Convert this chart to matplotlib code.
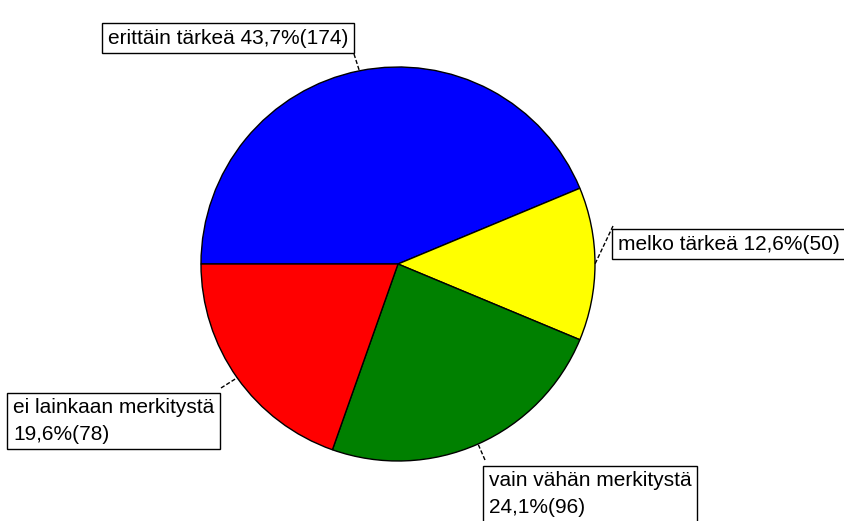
import numpy as np
import matplotlib
matplotlib.use("Agg")
import matplotlib.pyplot as plt

categories = ["erittäin tärkeä", "melko tärkeä", "vain vähän merkitystä", "ei lainkaan merkitystä"]
counts = [174, 50, 96, 78]
percents = ["43,7%", "12,6%", "24,1%", "19,6%"]
colors = ["#0000FF", "#FFFF00", "#008000", "#FF0000"]

W, H = 845, 521
fig = plt.figure(figsize=(W / 100, H / 100), dpi=100)
ax = fig.add_axes([0, 0, 1, 1])
ax.set_xlim(0, W)
ax.set_ylim(0, H)
ax.set_aspect("equal")
ax.axis("off")

cx, cy, R = 398, H - 264, 197
wedges, _ = ax.pie(counts, colors=colors, startangle=180, counterclock=False,
                   center=(cx, cy), radius=R,
                   wedgeprops=dict(edgecolor="black", linewidth=1.0))
ax.set_xlim(0, W)
ax.set_ylim(0, H)

labels = [f"{c} {p}({n})" if i < 2 else f"{c}\n{p}({n})"
          for i, (c, p, n) in enumerate(zip(categories, percents, counts))]
label_pos = [(108, 38), (618, 244), (489, 494), (13, 421)]
leader_start = [(354, 54), (613, 226), (485, 460), (221, 388)]

font = dict(family=["Liberation Sans", "DejaVu Sans"], fontsize=15)
for i in range(len(counts)):
    w = wedges[i]
    mid = np.deg2rad((w.theta1 + w.theta2) / 2)
    ex, ey = cx + R * np.cos(mid), cy + R * np.sin(mid)
    lx, ly = label_pos[i]
    ax.text(lx, H - ly, labels[i], ha="left", va="center", linespacing=1.5,
            bbox=dict(boxstyle="square,pad=0.27", facecolor="white",
                      edgecolor="black", linewidth=1.0), zorder=5, **font)
    sx, sy = leader_start[i]
    ax.plot([sx, ex], [H - sy, ey], color="black", linewidth=1.0,
            linestyle=(0, (3, 1.5)), zorder=4)

fig.savefig("out.png", dpi=100)
